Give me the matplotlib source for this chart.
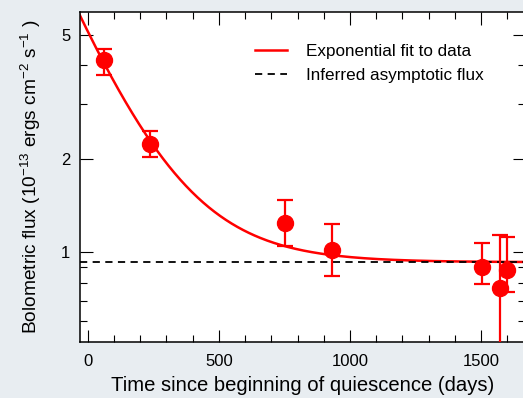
import numpy as np
import matplotlib
matplotlib.use('Agg')
import matplotlib.pyplot as plt
from matplotlib.ticker import FixedLocator, NullFormatter, FixedFormatter

plt.rcParams['font.family'] = ['Liberation Sans', 'DejaVu Sans']
plt.rcParams['mathtext.fontset'] = 'custom'
plt.rcParams['mathtext.rm'] = 'Liberation Sans'
plt.rcParams['mathtext.it'] = 'Liberation Sans'

# observations (days since start of quiescence, flux in 1e-13 erg/cm2/s)
days = [61, 237, 752, 931, 1504, 1573, 1599]
flux = [4.16, 2.23, 1.24, 1.015, 0.895, 0.767, 0.876]
flux_hi = [4.50, 2.46, 1.47, 1.23, 1.07, 1.14, 1.12]
flux_lo = [3.72, 2.03, 1.05, 0.84, 0.79, 0.40, 0.744]

# exponential + constant fit parameters
fit_amp = 4.2
fit_tau = 210.0
asym_flux = 0.93

bg = '#e8edf1'
red = '#ff0000'

fig = plt.figure(figsize=(5.23, 3.98), dpi=100, facecolor=bg)
ax = fig.add_axes([80 / 523, 56 / 398, 445 / 523, 330 / 398])
ax.set_facecolor('white')

t = np.linspace(-40, 1700, 400)
ax.plot(t, fit_amp * np.exp(-t / fit_tau) + asym_flux, color=red, lw=1.8,
        label='Exponential fit to data', zorder=2)
ax.axhline(asym_flux, color='black', lw=1.3, ls=(0, (4, 3)),
           label='Inferred asymptotic flux', zorder=3)

yerr = [np.array(flux) - np.array(flux_lo), np.array(flux_hi) - np.array(flux)]
ax.errorbar(days, flux, yerr=yerr, fmt='o', color=red, ms=11.5, elinewidth=1.6,
            capsize=6, capthick=1.6, zorder=4)

ax.set_yscale('log')
ax.set_xlim(-30, 1668)
ax.set_ylim(0.515, 5.93)

ax.xaxis.set_major_locator(FixedLocator([0, 500, 1000, 1500]))
ax.xaxis.set_minor_locator(FixedLocator(np.arange(0, 1700, 100)))
ax.yaxis.set_major_locator(FixedLocator([1, 2, 5]))
ax.yaxis.set_major_formatter(FixedFormatter(['1', '2', '5']))
ax.yaxis.set_minor_locator(FixedLocator([0.6, 0.7, 0.8, 0.9, 3, 4]))
ax.yaxis.set_minor_formatter(NullFormatter())

ax.tick_params(which='both', direction='in', top=True, right=True,
               width=0.8, labelsize=12, colors='black')
ax.tick_params(which='major', length=9)
ax.tick_params(axis='x', which='major', pad=9)
ax.tick_params(axis='y', which='major', pad=7)
ax.tick_params(which='minor', length=5)
for s in ax.spines.values():
    s.set_linewidth(1.1)

ax.set_xlabel('Time since beginning of quiescence (days)', fontsize=14.6, labelpad=5)
ax.set_ylabel(r'Bolometric flux (10$^{-13}$ ergs cm$^{-2}$ s$^{-1}$ )',
              fontsize=13.8, labelpad=13)

ax.legend(loc='upper right', bbox_to_anchor=(0.942, 0.95), frameon=False,
          fontsize=12.3, handlelength=1.9, handletextpad=1.1, labelspacing=0.55)

fig.savefig('out.png', dpi=100, facecolor=bg)
